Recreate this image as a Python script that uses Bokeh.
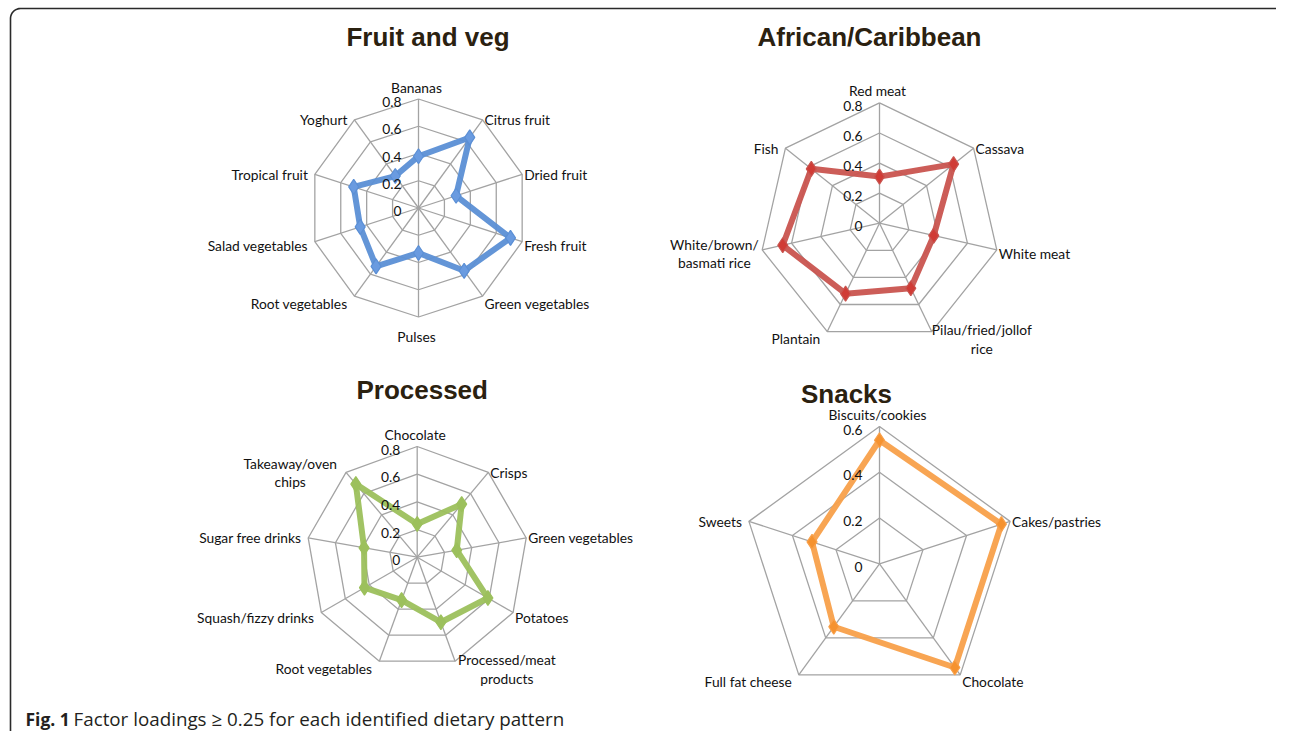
import math
from bokeh.plotting import figure
from bokeh.models import Range1d, ColumnDataSource
from bokeh.embed import file_html
from bokeh.resources import INLINE
from bokeh.core.properties import value

# ---------------- data ----------------
fv_title = "Fruit and veg"
fv_cats = ["Bananas", "Citrus fruit", "Dried fruit", "Fresh fruit", "Green vegetables",
           "Pulses", "Root vegetables", "Salad vegetables", "Tropical fruit", "Yoghurt"]
fv_vals = [0.38, 0.64, 0.29, 0.71, 0.57, 0.33, 0.53, 0.45, 0.50, 0.29]

ac_title = "African/Caribbean"
ac_cats = ["Red meat", "Cassava", "White meat", "Pilau/fried/jollof\nrice", "Plantain",
           "White/brown/\nbasmati rice", "Fish"]
ac_vals = [0.31, 0.63, 0.37, 0.48, 0.52, 0.66, 0.58]

pr_title = "Processed"
pr_cats = ["Chocolate", "Crisps", "Green vegetables", "Potatoes", "Processed/meat\nproducts",
           "Root vegetables", "Squash/fizzy drinks", "Sugar free drinks", "Takeaway/oven\nchips"]
pr_vals = [0.24, 0.50, 0.29, 0.59, 0.50, 0.33, 0.44, 0.39, 0.69]

sn_title = "Snacks"
sn_cats = ["Biscuits/cookies", "Cakes/pastries", "Chocolate", "Full fat cheese", "Sweets"]
sn_vals = [0.54, 0.56, 0.56, 0.34, 0.31]

ticks_08 = [0, 0.2, 0.4, 0.6, 0.8]
ticks_06 = [0, 0.2, 0.4, 0.6]
tick_labels_08 = ["0", "0.2", "0.4", "0.6", "0.8"]
tick_labels_06 = ["0", "0.2", "0.4", "0.6"]

caption_bold = "Fig. 1"
caption_text = "Factor loadings \u2265 0.25 for each identified dietary pattern"

# ---------------- figure ----------------
W, H = 1276, 731
p = figure(width=W, height=H, x_range=Range1d(0, W), y_range=Range1d(H, 0),
           output_backend="svg", toolbar_location=None, min_border=0,
           x_axis_type=None, y_axis_type=None)
p.grid.visible = False
p.outline_line_color = None
p.background_fill_color = "white"
p.border_fill_color = "white"

LABEL_FONT = value("Lato")
LABEL_SIZE = "13.8px"
GRID = "#a3a3a3"


def tw(s, size=13.8):
    w = 0.0
    for ch in s:
        if ch in "ijl.,:;'|!":
            w += 0.25
        elif ch in "ft/r ":
            w += 0.33
        elif ch in "mw":
            w += 0.80
        elif ch in "MW":
            w += 0.90
        elif ch.isupper():
            w += 0.65
        else:
            w += 0.53
    return w * size


def radar(cats, vals, ticks, tick_labels, cx, cy, ppu, color, mcolor):
    n = len(cats)
    ang = [2 * math.pi * i / n for i in range(n)]
    rmax = ticks[-1]
    # rings
    for t in ticks[1:]:
        xs = [cx + t * ppu * math.sin(a) for a in ang]
        ys = [cy - t * ppu * math.cos(a) for a in ang]
        p.line(xs + xs[:1], ys + ys[:1], line_color=GRID, line_width=1.3)
    # spokes
    p.segment(x0=[cx] * n, y0=[cy] * n,
              x1=[cx + rmax * ppu * math.sin(a) for a in ang],
              y1=[cy - rmax * ppu * math.cos(a) for a in ang],
              line_color=GRID, line_width=1.3)
    # series
    sx = [cx + v * ppu * math.sin(a) for v, a in zip(vals, ang)]
    sy = [cy - v * ppu * math.cos(a) for v, a in zip(vals, ang)]
    src = ColumnDataSource(dict(x=sx, y=sy, v=vals))
    p.line(sx + sx[:1], sy + sy[:1], line_color=color, line_width=6,
           line_join="round", line_alpha=0.95)
    p.scatter("x", "y", source=src, marker="diamond", size=15,
              fill_color=mcolor, line_color=color, line_width=1.2)
    # tick labels
    p.text(x=[cx - 17] * len(ticks), y=[cy - t * ppu + 3 for t in ticks], text=tick_labels,
           text_align="right", text_baseline="middle", text_font=LABEL_FONT,
           text_font_size=LABEL_SIZE, text_color="#111111")
    # category labels
    groups = {"left": ([], [], []), "right": ([], [], []), "center": ([], [], [])}
    R = rmax * ppu
    for cat, a in zip(cats, ang):
        s, c = math.sin(a), math.cos(a)
        vx, vy = cx + R * s, cy - R * c
        if abs(s) < 0.05:
            align = "center"
            x = vx - 2
            y = vy - 12 if c > 0 else vy + 19
        else:
            dy = (2 + (-c) * 6) if c < 0 else 0
            y = vy + dy
            if s > 0:
                align, x = "left", vx + 2
            else:
                align, x = "right", vx - 7
        lines = cat.split("\n")
        if len(lines) == 1:
            g = groups[align]
            g[0].append(x); g[1].append(y); g[2].append(cat)
        else:
            w = max(tw(l) for l in lines)
            if align == "left":
                bx = x + w / 2
            elif align == "right":
                bx = x - w / 2
            else:
                bx = x
            m = len(lines)
            for k, l in enumerate(lines):
                g = groups["center"]
                g[0].append(bx); g[1].append(y + (k - (m - 1) / 2) * 18.5); g[2].append(l)
    for align, (xs, ys, ts) in groups.items():
        if ts:
            p.text(x=xs, y=ys, text=ts, text_align=align, text_baseline="middle",
                   text_font=LABEL_FONT, text_font_size=LABEL_SIZE, text_color="#111111")


def title(t, x, y):
    p.text(x=[x], y=[y], text=[t], text_align="center", text_baseline="middle",
           text_font=value("Liberation Sans"), text_font_style="bold",
           text_font_size="26px", text_color="#2b2110")


# ---------------- charts ----------------
radar(fv_cats, fv_vals, ticks_08, tick_labels_08, 418, 207.5, 109 / 0.8, "#5b8fd5", "#6a9be0")
radar(ac_cats, ac_vals, ticks_08, tick_labels_08, 879, 222.7, 120.3 / 0.8, "#c9544f", "#d03b35")
radar(pr_cats, pr_vals, ticks_08, tick_labels_08, 416.7, 556.7, 110.7 / 0.8, "#9cc05c", "#9cc05c")
radar(sn_cats, sn_vals, ticks_06, tick_labels_06, 879, 563.3, 137.3 / 0.6, "#f8a04a", "#f5922f")

title(fv_title, 427.5, 36)
title(ac_title, 869, 36)
title(pr_title, 421.7, 389)
title(sn_title, 846, 393)

# ---------------- frame border ----------------
rad = 10
bx = [10, 10]
by = [760, 8 + rad]
for k in range(1, 12):
    th = math.pi / 2 * k / 11
    bx.append(10 + rad - rad * math.cos(th))
    by.append(8 + rad - rad * math.sin(th))
bx.append(1300)
by.append(8)
p.line(bx, by, line_color="#2a2a2a", line_width=1.6)

# ---------------- caption ----------------
CAP_Y = 718
p.text(x=[25], y=[CAP_Y], text=[caption_bold], text_align="left", text_baseline="middle",
       text_font=value("Open Sans"), text_font_style="bold", text_font_size="17.5px",
       text_color="#231f20")
p.text(x=[73], y=[CAP_Y], text=[caption_text], text_align="left", text_baseline="middle",
       text_font=value("Open Sans"), text_font_size="18.8px", text_color="#231f20")

open("out.html", "w").write(file_html(p, INLINE))
